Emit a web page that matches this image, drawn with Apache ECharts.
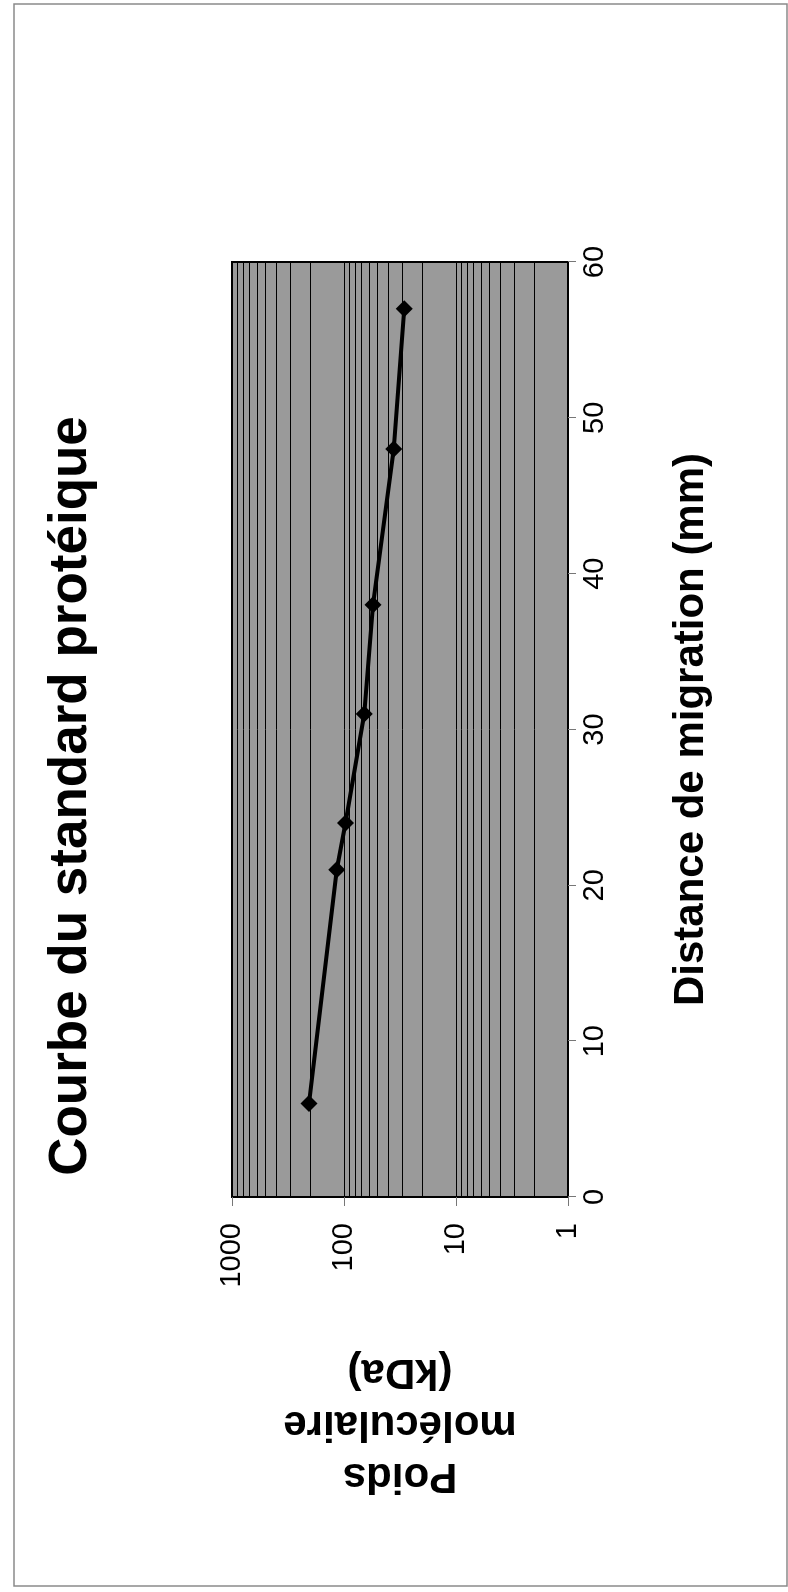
<!DOCTYPE html>
<html>
<head>
<meta charset="utf-8">
<title>Courbe du standard protéique</title>
<script src="https://cdn.jsdelivr.net/npm/echarts@6/dist/echarts.min.js"></script>
<style>
    html, body { margin: 0; padding: 0; background: #fff; overflow: hidden; }
    #wrap { position: relative; width: 788px; height: 1592px; }
    /* le graphique est dessiné en paysage puis tourné d'un quart de tour */
    #chart { position: absolute; left: 0; top: 1592px; width: 1592px; height: 788px;
             transform-origin: 0 0; transform: rotate(-90deg); }
</style>
</head>
<body>
<div id="wrap"><div id="chart"></div></div>
<script>
// distance de migration (mm) des marqueurs
var distances = [6, 21, 24, 31, 38, 48, 57];
// poids moléculaire (kDa)
var poids = [205, 116, 97, 66, 55, 36, 29];
// axes
var distanceMin = 0, distanceMax = 60, distanceStep = 10;
var poidsMin = 1, poidsMax = 1000;
var decades = [1, 10, 100];
var minorSteps = [2, 3, 4, 5, 6, 7, 8, 9];

var font = "'Liberation Sans', Arial, sans-serif";

var myChart = echarts.init(document.getElementById('chart'));

// lignes de quadrillage secondaires (2..9 dans chaque décade)
var minorLines = [];
decades.forEach(function (d) {
    minorSteps.forEach(function (s) {
        minorLines.push({yAxis: d * s});
    });
});

var points = distances.map(function (x, i) {
    return [x, poids[i]];
});

var option = {
    animation: false,
    backgroundColor: '#fff',
    textStyle: {fontFamily: font},
    title: {
        text: 'Courbe du standard protéique',
        left: 'center',
        top: 40,
        textStyle: {fontFamily: font, fontSize: 53, fontWeight: 'bold', color: '#000'}
    },
    graphic: [{
        type: 'rect',
        shape: {x: 6, y: 14, width: 1582, height: 773},
        style: {fill: 'none', stroke: '#8a8a8a', lineWidth: 1.5},
        silent: true
    }],
    grid: {
        left: 395, right: 262, top: 232, bottom: 220,
        show: true,
        backgroundColor: '#9a9a9a',
        borderColor: '#000',
        borderWidth: 2
    },
    xAxis: {
        type: 'value',
        min: distanceMin,
        max: distanceMax,
        interval: distanceStep,
        name: 'Distance de migration (mm)',
        nameLocation: 'middle',
        nameGap: 102,
        nameTextStyle: {fontFamily: font, fontSize: 42, fontWeight: 'bold', color: '#000'},
        axisLine: {show: false},
        axisTick: {show: true, length: 8, lineStyle: {color: '#777', width: 1}},
        axisLabel: {margin: 12, fontSize: 29, color: '#000', fontFamily: font},
        splitLine: {show: false}
    },
    yAxis: {
        type: 'log',
        logBase: 10,
        min: poidsMin,
        max: poidsMax,
        name: 'Poids\nmoléculaire\n(kDa)',
        nameLocation: 'middle',
        nameRotate: 90,
        nameGap: 149,
        nameTextStyle: {fontFamily: font, fontSize: 42, fontWeight: 'bold', color: '#000', lineHeight: 52},
        axisLine: {show: false},
        axisTick: {show: true, length: 9, lineStyle: {color: '#777', width: 1}},
        axisLabel: {
            margin: 26, fontSize: 29, color: '#000', fontFamily: font,
            formatter: function (v) { return String(v); }
        },
        splitLine: {show: true, lineStyle: {color: '#000', width: 1}}
    },
    series: [{
        // quadrillage secondaire
        type: 'line',
        data: [],
        silent: true,
        z: 1,
        markLine: {
            silent: true,
            symbol: 'none',
            label: {show: false},
            lineStyle: {color: '#000', width: 1, type: 'solid'},
            data: minorLines
        }
    }, {
        name: 'Standard',
        type: 'line',
        data: points,
        z: 5,
        symbol: 'diamond',
        symbolSize: 17,
        lineStyle: {color: '#000', width: 4},
        itemStyle: {color: '#000'}
    }]
};

myChart.setOption(option);
window.onresize = myChart.resize;
</script>
</body>
</html>
